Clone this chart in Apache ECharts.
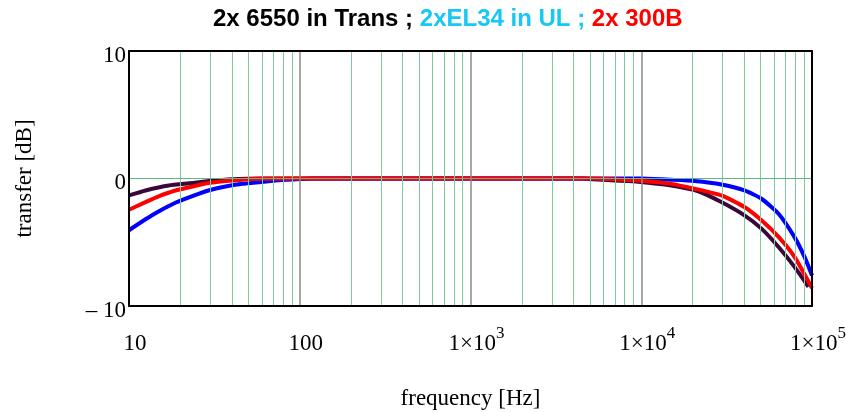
<!DOCTYPE html>
<html>
<head>
<meta charset="utf-8">
<script src="https://cdn.jsdelivr.net/npm/echarts@6/dist/echarts.min.js"></script>
<style>html,body{margin:0;padding:0;background:#fff}#c{width:846px;height:412px}</style>
</head>
<body>
<div id="c"></div>
<script>
// ---- data ----
const freq6550 = [10, 12.5, 17.1, 23.5, 29.2, 40.5, 60, 100, 1000, 4500, 5100, 7000, 9600, 15000, 21600, 29450, 40200, 50600, 63700, 79000, 95300];
const db6550   = [-1.33, -0.94, -0.55, -0.36, -0.2, -0.05, 0, 0, 0, 0, -0.05, -0.15, -0.25, -0.55, -1.0, -1.85, -2.89, -3.93, -5.37, -6.93, -8.49];

const freqEL34 = [10, 12.5, 14.9, 18.7, 23.5, 29.2, 36.8, 46.3, 57.5, 72.3, 90.9, 120, 1000, 10000, 15000, 20470, 29450, 40200, 50600, 63700, 79000, 90400, 100000];
const dbEL34   = [-4.06, -3.2, -2.58, -1.9, -1.38, -0.94, -0.63, -0.42, -0.29, -0.16, -0.08, 0, 0, 0, -0.1, -0.2, -0.47, -0.94, -1.59, -2.76, -4.6, -6.15, -7.6];

const freq300B = [10, 12.5, 14.9, 18.7, 23.5, 29.2, 36.8, 57.5, 100, 1000, 5000, 7000, 9600, 15000, 20470, 29450, 40200, 50600, 63700, 79000, 100000];
const db300B   = [-2.45, -1.85, -1.4, -0.94, -0.63, -0.36, -0.2, -0.02, 0, 0, 0, -0.05, -0.16, -0.42, -0.8, -1.33, -2.24, -3.28, -4.58, -6.15, -8.6];

const xTicks = [10, 100, 1000, 10000, 100000];
const yTicks = [-10, 0, 10];
const decadeLines = [100, 1000, 10000];
const minorMultipliers = [2, 3, 4, 5, 6, 7, 8, 9];
const minorDecades = [10, 100, 1000, 10000];

// ---- build ----
const pairs = (f, v) => f.map((x, i) => [x, v[i]]);
const minorLines = [];
minorDecades.forEach(d => minorMultipliers.forEach(m => minorLines.push({ xAxis: d * m })));

const serif = 'Liberation Serif';
const sans = 'Liberation Sans';
const chart = echarts.init(document.getElementById('c'), null, { renderer: 'canvas' });

const supLabel = v => {
  if (v === 10) return '{b|10}';
  if (v === 100) return '{b|100}';
  const e = Math.round(Math.log10(v));
  return '{b|1\u00d710}{s|' + e + '}';
};

chart.setOption({
  animation: false,
  backgroundColor: '#fff',
  title: {
    text: '{k|2x 6550 in Trans ; }{c|2xEL34 in UL ; }{r|2x 300B}',
    left: 213, top: 6, padding: 0,
    textStyle: {
      rich: {
        k: { color: '#000', fontFamily: sans, fontWeight: 'bold', fontSize: 24, lineHeight: 26 },
        c: { color: '#18c8f4', fontFamily: sans, fontWeight: 'bold', fontSize: 24, lineHeight: 26 },
        r: { color: '#ff0000', fontFamily: sans, fontWeight: 'bold', fontSize: 24, lineHeight: 26 }
      }
    }
  },
  grid: { left: 129, right: 34, top: 51, bottom: 106, containLabel: false, outerBoundsMode: 'none' },
  xAxis: [{
    type: 'log', logBase: 10, min: 10, max: 100000,
    name: 'frequency [Hz]', nameLocation: 'middle', nameGap: 81,
    nameTextStyle: { fontFamily: serif, fontSize: 23, color: '#000' },
    axisLine: { show: true, onZero: false, lineStyle: { color: '#000', width: 2 } },
    axisTick: { show: false },
    splitLine: { show: false },
    z: 5,
    axisLabel: {
      margin: 19, color: '#000', formatter: supLabel, padding: [0, 0, 0, 12],
      rich: {
        b: { fontFamily: serif, fontSize: 23, color: '#000', verticalAlign: 'bottom', lineHeight: 30 },
        s: { fontFamily: serif, fontSize: 17, color: '#000', verticalAlign: 'top', lineHeight: 15 }
      }
    }
  }, {
    type: 'log', logBase: 10, min: 10, max: 100000, position: 'top',
    axisLine: { show: true, onZero: false, lineStyle: { color: '#000', width: 2 } },
    axisTick: { show: false }, axisLabel: { show: false }, splitLine: { show: false }, z: 5
  }],
  yAxis: [{
    type: 'value', min: -10, max: 10, interval: 10,
    name: 'transfer [dB]', nameLocation: 'middle', nameGap: 93,
    nameTextStyle: { fontFamily: serif, fontSize: 23, color: '#000' },
    axisLine: { show: true, onZero: false, lineStyle: { color: '#000', width: 2 } },
    axisTick: { show: false },
    splitLine: { show: false },
    z: 5,
    axisLabel: {
      margin: 3, color: '#000',
      formatter: v => '{v|' + (v < 0 ? '\u2013 ' + Math.abs(v) : String(v)) + '}',
      rich: { v: { fontFamily: serif, fontSize: 23, color: '#000', padding: [9, 0, 0, 0], lineHeight: 23 } }
    }
  }, {
    type: 'value', min: -10, max: 10, interval: 10, position: 'right',
    axisLine: { show: true, onZero: false, lineStyle: { color: '#000', width: 2 } },
    axisTick: { show: false }, axisLabel: { show: false }, splitLine: { show: false }, z: 5
  }],
  series: [
    {
      name: 'grid', type: 'line', data: [], silent: true,
      markLine: {
        silent: true, symbol: 'none', animation: false, label: { show: false },
        lineStyle: { color: '#80cba0', width: 1, type: 'solid', opacity: 1 },
        emphasis: { disabled: true },
        data: minorLines.concat([{ yAxis: 0, lineStyle: { color: '#5cb884', width: 1 } }])
      }
    },
    {
      name: 'gridDecade', type: 'line', data: [], silent: true,
      markLine: {
        silent: true, symbol: 'none', animation: false, label: { show: false },
        lineStyle: { color: '#8a8a8a', width: 1.5, type: 'solid', opacity: 1 },
        emphasis: { disabled: true },
        data: decadeLines.map(v => ({ xAxis: v }))
      }
    },
    {
      name: '2x 6550 in Trans', type: 'line', data: pairs(freq6550, db6550),
      showSymbol: false, smooth: 0.2, clip: true,
      lineStyle: { color: '#3a0838', width: 4 }
    },
    {
      name: '2xEL34 in UL', type: 'line', data: pairs(freqEL34, dbEL34),
      showSymbol: false, smooth: 0.2, clip: true,
      lineStyle: { color: '#0000ff', width: 4 }
    },
    {
      name: '2x 300B', type: 'line', data: pairs(freq300B, db300B),
      showSymbol: false, smooth: 0.2, clip: true,
      lineStyle: { color: '#ff0000', width: 4 }
    }
  ]
});
</script>
</body>
</html>
